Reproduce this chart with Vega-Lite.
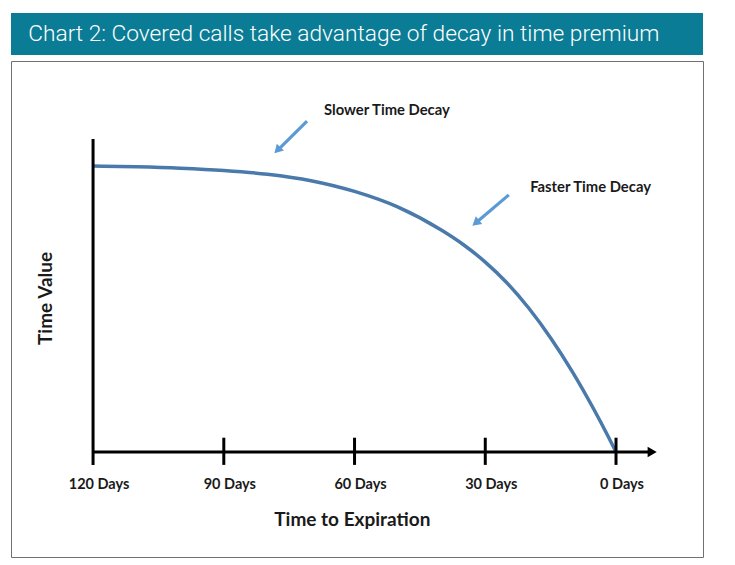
{
  "$schema": "https://vega.github.io/schema/vega-lite/v6.json",
  "padding": {"left": 10, "top": 13, "right": 0, "bottom": 0},
  "background": "white",
  "spacing": 5,
  "datasets": {
    "curve": [
      {"days": 120, "value": 100},
      {"days": 110, "value": 99.7},
      {"days": 100, "value": 99.2},
      {"days": 90, "value": 98.4},
      {"days": 80, "value": 97.1},
      {"days": 70, "value": 94.85},
      {"days": 60, "value": 91.1},
      {"days": 50, "value": 85.6},
      {"days": 40, "value": 77.5},
      {"days": 35, "value": 72.45},
      {"days": 30, "value": 66.4},
      {"days": 25, "value": 59.1},
      {"days": 20, "value": 50.25},
      {"days": 15, "value": 39.9},
      {"days": 10, "value": 28.05},
      {"days": 5, "value": 14.7},
      {"days": 2, "value": 6.05},
      {"days": 0, "value": 0}
    ],
    "ticks": [
      {"days": 120, "label": "120 Days"},
      {"days": 90, "label": "90 Days"},
      {"days": 60, "label": "60 Days"},
      {"days": 30, "label": "30 Days"},
      {"days": 0, "label": "0 Days"}
    ]
  },
  "vconcat": [
    {
      "width": 692,
      "height": 42,
      "view": {"fill": "#0b7c95", "stroke": null},
      "data": {"values": [{"title": "Chart 2: Covered calls take advantage of decay in time premium"}]},
      "mark": {"type": "text", "align": "left", "baseline": "middle", "color": "white", "font": "Roboto", "fontWeight": 300, "fontSize": 22.7},
      "encoding": {
        "x": {"datum": 0.025, "type": "quantitative", "scale": {"domain": [0, 1], "nice": false, "zero": false}, "axis": null},
        "y": {"datum": 0.5, "type": "quantitative", "scale": {"domain": [0, 1], "nice": false, "zero": false}, "axis": null},
        "text": {"field": "title"}
      }
    },
    {
      "width": 692,
      "height": 496,
      "view": {"stroke": "#707070", "strokeWidth": 1},
      "layer": [
        {
          "data": {"name": "curve"},
          "mark": {"type": "line", "interpolate": "monotone", "color": "#4a7aab", "strokeWidth": 3.5},
          "encoding": {
            "x": {"field": "days", "type": "quantitative", "scale": {"domain": [-19.96, 138.83], "reverse": true, "nice": false, "zero": false}, "axis": null},
            "y": {"field": "value", "type": "quantitative", "scale": {"domain": [-36.7, 136.7], "nice": false, "zero": false}, "axis": null}
          }
        },
        {
          "data": {"values": [{}]},
          "mark": {"type": "rule", "color": "black", "strokeWidth": 3},
          "encoding": {
            "x": {"datum": 120, "type": "quantitative"},
            "y": {"datum": -4.5, "type": "quantitative"},
            "y2": {"datum": 109.4}
          }
        },
        {
          "data": {"values": [{}]},
          "mark": {"type": "rule", "color": "black", "strokeWidth": 3},
          "encoding": {
            "x": {"datum": 120, "type": "quantitative"},
            "x2": {"datum": -8},
            "y": {"datum": 0, "type": "quantitative"}
          }
        },
        {
          "data": {"values": [{}]},
          "mark": {"type": "point", "shape": "triangle-right", "filled": true, "color": "black", "size": 110, "opacity": 1},
          "encoding": {
            "x": {"datum": -8.3, "type": "quantitative"},
            "y": {"datum": 0, "type": "quantitative"}
          }
        },
        {
          "data": {"name": "ticks"},
          "transform": [{"filter": "datum.days < 120"}],
          "mark": {"type": "rule", "color": "black", "strokeWidth": 3},
          "encoding": {
            "x": {"field": "days", "type": "quantitative"},
            "y": {"datum": 5, "type": "quantitative"},
            "y2": {"datum": -4.5}
          }
        },
        {
          "data": {"name": "ticks"},
          "mark": {"type": "text", "font": "Lato", "fontWeight": "bold", "fontSize": 14.5, "color": "#1a1a1a", "dx": 6, "baseline": "middle"},
          "encoding": {
            "x": {"field": "days", "type": "quantitative"},
            "y": {"datum": -11.4, "type": "quantitative"},
            "text": {"field": "label"}
          }
        },
        {
          "data": {"values": [{}]},
          "mark": {"type": "text", "text": "Time to Expiration", "font": "Lato", "fontWeight": "bold", "fontSize": 19, "color": "#1a1a1a", "baseline": "middle"},
          "encoding": {
            "x": {"datum": 60.5, "type": "quantitative"},
            "y": {"datum": -23.8, "type": "quantitative"}
          }
        },
        {
          "data": {"values": [{}]},
          "mark": {"type": "text", "text": "Time Value", "font": "Lato", "fontWeight": "bold", "fontSize": 19, "color": "#1a1a1a", "angle": 270, "baseline": "middle"},
          "encoding": {
            "x": {"datum": 130.8, "type": "quantitative"},
            "y": {"datum": 53.7, "type": "quantitative"}
          }
        },
        {
          "data": {"values": [{}]},
          "mark": {"type": "text", "text": "Slower Time Decay", "font": "Lato", "fontWeight": "bold", "fontSize": 14.8, "color": "#1a1a1a", "align": "left", "baseline": "middle"},
          "encoding": {
            "x": {"datum": 67, "type": "quantitative"},
            "y": {"datum": 119.3, "type": "quantitative"}
          }
        },
        {
          "data": {"values": [{}]},
          "mark": {"type": "text", "text": "Faster Time Decay", "font": "Lato", "fontWeight": "bold", "fontSize": 14.8, "color": "#1a1a1a", "align": "left", "baseline": "middle"},
          "encoding": {
            "x": {"datum": 19.7, "type": "quantitative"},
            "y": {"datum": 92.4, "type": "quantitative"}
          }
        },
        {
          "data": {"values": [{}]},
          "mark": {"type": "rule", "color": "#5b9bd5", "strokeWidth": 3.2},
          "encoding": {
            "x": {"datum": 70.9, "type": "quantitative"},
            "x2": {"datum": 77.5},
            "y": {"datum": 115.7, "type": "quantitative"},
            "y2": {"datum": 105.7}
          }
        },
        {
          "data": {"values": [{}]},
          "mark": {"type": "point", "shape": "triangle-up", "filled": true, "color": "#5b9bd5", "size": 100, "angle": 224, "opacity": 1},
          "encoding": {
            "x": {"datum": 77.7, "type": "quantitative"},
            "y": {"datum": 105.5, "type": "quantitative"}
          }
        },
        {
          "data": {"values": [{}]},
          "mark": {"type": "rule", "color": "#5b9bd5", "strokeWidth": 3.2},
          "encoding": {
            "x": {"datum": 24.6, "type": "quantitative"},
            "x2": {"datum": 32},
            "y": {"datum": 89.9, "type": "quantitative"},
            "y2": {"datum": 80.3}
          }
        },
        {
          "data": {"values": [{}]},
          "mark": {"type": "point", "shape": "triangle-up", "filled": true, "color": "#5b9bd5", "size": 100, "angle": 230, "opacity": 1},
          "encoding": {
            "x": {"datum": 32.2, "type": "quantitative"},
            "y": {"datum": 80.1, "type": "quantitative"}
          }
        }
      ]
    }
  ]
}
